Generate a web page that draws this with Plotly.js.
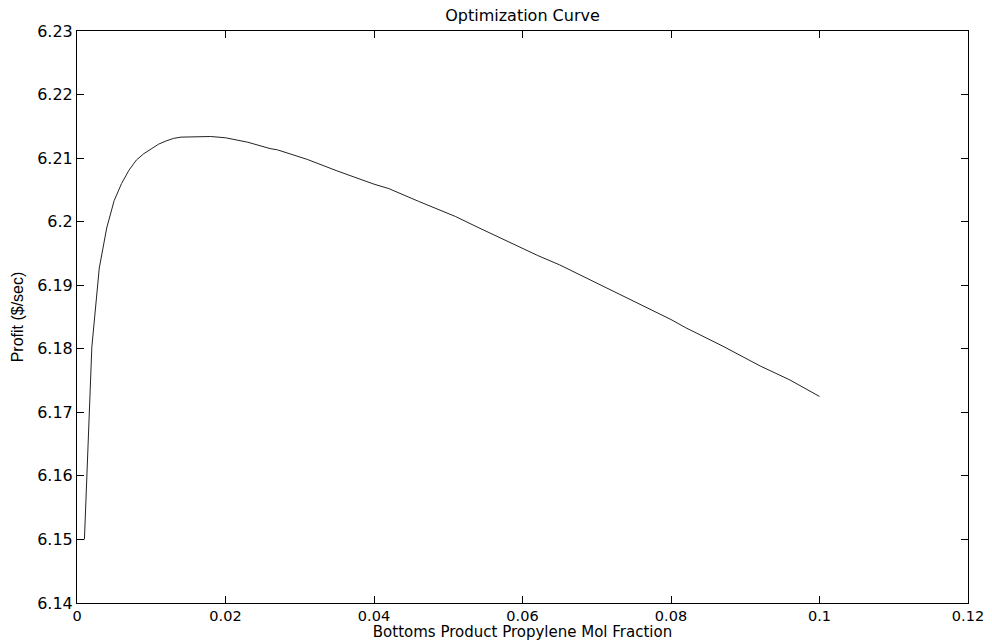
<!DOCTYPE html>
<html>
<head>
<meta charset="utf-8">
<script src="https://cdn.plot.ly/plotly-3.0.1.min.js"></script>
<style>
html,body{margin:0;padding:0;background:#fff;}
#chart{width:992px;height:641px;}
</style>
</head>
<body>
<div id="chart"></div>
<script>
// Data
var molFraction = [0.001,0.002,0.003,0.004,0.005,0.006,0.007,0.008,0.009,0.010,
  0.011,0.012,0.013,0.014,0.016,0.018,0.020,0.023,0.026,0.027,
  0.031,0.035,0.040,0.042,0.046,0.051,0.054,0.058,0.062,0.065,
  0.069,0.073,0.077,0.080,0.082,0.087,0.092,0.096,0.100];
var profit = [6.1500,6.1803,6.1927,6.1990,6.2033,6.2060,6.2081,6.2097,6.2107,6.2115,
  6.2122,6.2127,6.2131,6.2133,6.2134,6.2134,6.2132,6.2125,6.2115,6.2113,
  6.2098,6.2080,6.2059,6.2052,6.2032,6.2008,6.1991,6.1969,6.1947,6.1932,
  6.1909,6.1887,6.1864,6.1846,6.1833,6.1804,6.1773,6.1751,6.1725];

var xTickVals = [0,0.02,0.04,0.06,0.08,0.1,0.12];
var xTickText = ["0","0.02","0.04","0.06","0.08","0.1","0.12"];
var yTickVals = [6.14,6.15,6.16,6.17,6.18,6.19,6.2,6.21,6.22,6.23];
var yTickText = ["6.14","6.15","6.16","6.17","6.18","6.19","6.2","6.21","6.22","6.23"];

var chartTitle = "Optimization Curve";
var xTitle = "Bottoms Product Propylene Mol Fraction";
var yTitle = "Profit ($/sec)";

var trace = {
  x: molFraction,
  y: profit,
  type: 'scatter',
  mode: 'lines',
  line: {color: '#222222', width: 1},
  hoverinfo: 'skip',
  showlegend: false
};

var layout = {
  width: 992,
  height: 641,
  paper_bgcolor: '#fff',
  plot_bgcolor: '#fff',
  margin: {l: 77, r: 24, t: 31, b: 38, pad: 0},
  title: {
    text: chartTitle,
    font: {family: 'DejaVu Sans, sans-serif', size: 16, color: '#000'},
    xref: 'paper', x: 0.5, xanchor: 'center',
    yref: 'container', y: 1 - 15/641, yanchor: 'middle'
  },
  xaxis: {
    range: [0, 0.12],
    tickmode: 'array', tickvals: xTickVals, ticktext: xTickText,
    ticks: 'inside', ticklen: 7, tickwidth: 1, tickcolor: '#000',
    showline: true, linecolor: '#000', linewidth: 1, mirror: 'ticks',
    showgrid: false, zeroline: false,
    tickfont: {family: 'DejaVu Sans, sans-serif', size: 14.5, color: '#000'},
    ticklabelstandoff: 0,
    title: {text: xTitle, font: {family: 'DejaVu Sans, sans-serif', size: 15, color: '#000'}, standoff: 4},
    automargin: false
  },
  yaxis: {
    range: [6.14, 6.23],
    tickmode: 'array', tickvals: yTickVals, ticktext: yTickText,
    ticks: 'inside', ticklen: 7, tickwidth: 1, tickcolor: '#000',
    showline: true, linecolor: '#000', linewidth: 1, mirror: 'ticks',
    showgrid: false, zeroline: false,
    tickfont: {family: 'DejaVu Sans, sans-serif', size: 16, color: '#000'},
    title: {text: yTitle, font: {family: 'Liberation Sans, Arial, sans-serif', size: 16, color: '#000'}, standoff: 9},
    automargin: false
  }
};

Plotly.newPlot('chart', [trace], layout, {staticPlot: true, displayModeBar: false});
</script>
</body>
</html>
